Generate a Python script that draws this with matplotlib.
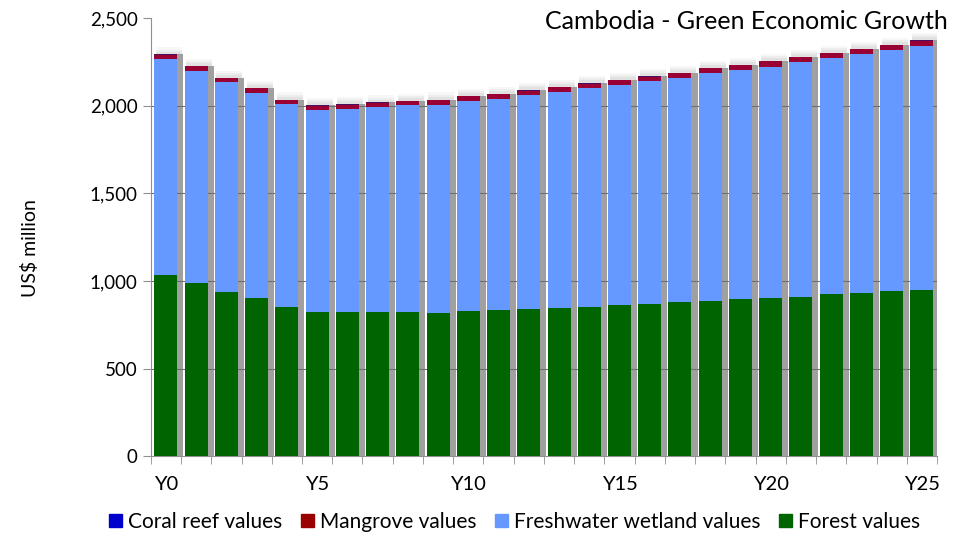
import numpy as np
import matplotlib
matplotlib.use("Agg")
import matplotlib.pyplot as plt
from matplotlib.patches import Patch

plt.rcParams['font.family'] = ['Lato', 'DejaVu Sans']

years = ["Y%d" % i for i in range(26)]
total = [2293, 2228, 2161, 2102, 2036, 2003, 2009, 2019, 2030, 2036,
         2057, 2070, 2089, 2108, 2129, 2149, 2169, 2190, 2215, 2235,
         2255, 2279, 2302, 2327, 2348, 2374]
forest = [1033, 986, 938, 900, 852, 822, 821, 821, 821, 820,
          828, 833, 841, 847, 854, 861, 871, 879, 885, 898,
          904, 911, 925, 932, 944, 951]
mangrove = [25, 25, 25, 26, 26, 26, 26, 26, 26, 27,
            27, 27, 27, 27, 28, 28, 28, 28, 28, 29,
            29, 29, 29, 30, 30, 30]
coral = [2] * 26
wetland = [t - f - m - c for t, f, m, c in zip(total, forest, mangrove, coral)]

x = np.arange(len(years))
w = 0.76

fig = plt.figure(figsize=(9.73, 5.36), dpi=100)
ax = fig.add_axes([0.155, 0.149, 0.808, 0.817])

# soft shadow behind bars
for k, a in [(40, 0.06), (28, 0.08), (16, 0.10)]:
    ax.bar(x + 0.1, np.array(total) + k, width=w + 0.1, color='#7a7a7a',
           alpha=a, zorder=1, linewidth=0)
ax.bar(x + 0.2, total, width=w, color='#a0a0a0', zorder=2, linewidth=0)
ax.bar(x + 0.31, total, width=0.09, color='#c2c2c2', zorder=2, linewidth=0)

for yv in [500, 1000, 1500, 2000]:
    ax.axhline(yv, color='#707070', lw=0.8, zorder=2.5)

ax.bar(x, forest, width=w, color='#006400', zorder=3, linewidth=0)
ax.bar(x, wetland, width=w, bottom=forest, color='#6699ff', zorder=3, linewidth=0)
b2 = np.array(forest) + np.array(wetland)
ax.bar(x, mangrove, width=w, bottom=b2, color='#990033', zorder=3, linewidth=0)
ax.bar(x, coral, width=w, bottom=b2 + np.array(mangrove), color='#4a1060', zorder=3, linewidth=0)

ax.set_xlim(-0.5, 25.5)
ax.set_ylim(0, 2500)
ax.set_yticks([0, 500, 1000, 1500, 2000, 2500])
ax.set_yticklabels(["0", "500", "1,000", "1,500", "2,000", "2,500"], fontsize=13.5)
ax.set_xticks(x[::5])
ax.set_xticklabels(years[::5], fontsize=14.5)
ax.set_xticks(np.arange(-0.5, 26, 1), minor=True)
ax.tick_params(axis='x', which='major', length=0, pad=14)
ax.tick_params(axis='x', which='minor', length=6, color='#909090', direction='out')
ax.tick_params(axis='y', length=6, color='#909090', direction='out')

for s in ['top', 'right']:
    ax.spines[s].set_visible(False)
for s in ['left', 'bottom']:
    ax.spines[s].set_color('#909090')

fig.text(30 / 973, 1 - 248 / 536, "US$ million", rotation=90, fontsize=14,
         ha='center', va='center')
ax.text(1.014, 0.975, "Cambodia - Green Economic Growth", transform=ax.transAxes,
        ha='right', va='baseline', fontsize=18)

handles = [Patch(color='#0000cc'), Patch(color='#990000'),
           Patch(color='#6699ff'), Patch(color='#006400')]
labels = ["Coral reef values", "Mangrove values", "Freshwater wetland values", "Forest values"]
fig.legend(handles, labels, loc='center', bbox_to_anchor=(0.529, 0.026), ncol=4,
           frameon=False, fontsize=15, handlelength=0.6, handleheight=0.6,
           handletextpad=0.3, columnspacing=0.9)

fig.savefig("out.png", dpi=100)
